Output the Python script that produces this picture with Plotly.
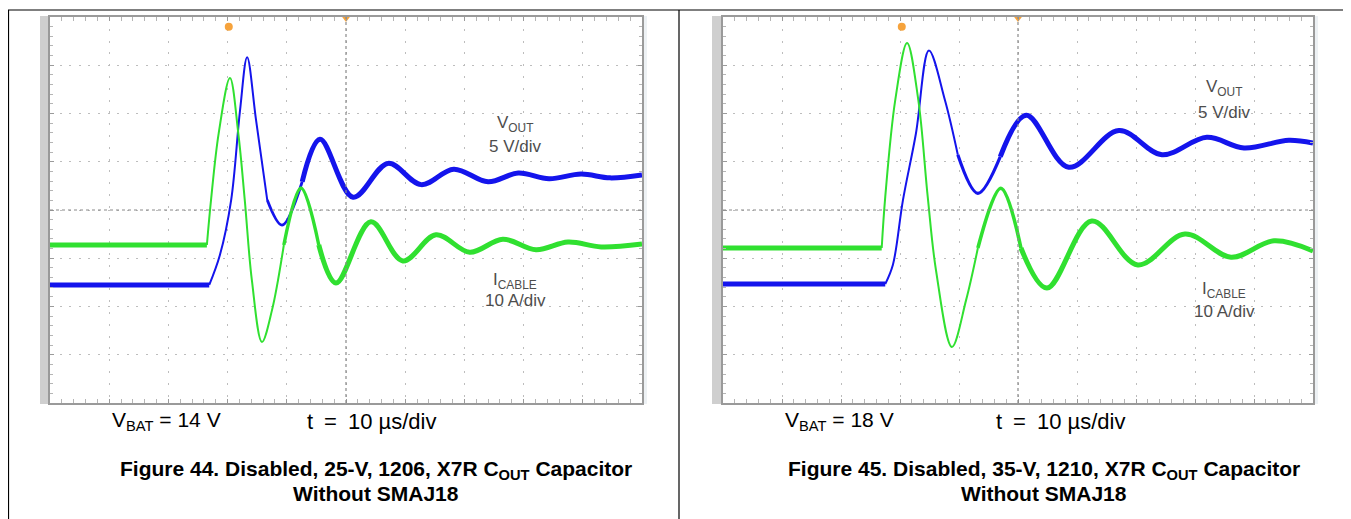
import plotly.graph_objects as go

W, H = 1351, 519

# ---------------- data (time in µs, VOUT in V, ICABLE in A) ----------------
# Figure 44
t44_vout = [0, 26.9, 28.7, 30.6, 32.1, 33.3, 34.8, 36.7, 39.2, 42.6, 45.6, 51.2, 57.1, 62.7,
            68.2, 74.0, 79.1, 84.3, 89.7, 94.6, 100]
v44_vout = [0, 0, 3.1, 8.8, 18.1, 23.6, 17.1, 8.8, 6.2, 10.7, 15.1, 9.1, 12.6, 10.4,
            12.0, 10.7, 11.6, 11.0, 11.5, 11.1, 11.4]
t44_icab = [0, 26.5, 27.2, 28.5, 30.4, 31.8, 32.9, 34.1, 35.8, 37.5, 39.5, 42.4, 45.4, 48.3,
            54.2, 59.6, 65.2, 70.9, 76.5, 82.1, 87.5, 93.1, 100]
i44_icab = [0, 0, 9.3, 23.2, 34.6, 23.2, 9.3, -7.3, -20.1, -13.5, 0, 11.8, 0, -7.9,
            4.8, -3.3, 2.1, -1.5, 1.2, -1.0, 0.6, -0.4, 0.2]

# Figure 45
t45_vout = [0, 27.5, 28.8, 30.5, 32.7, 34.9, 37.6, 39.8, 43.2, 47.0, 51.4, 58.6, 67.1, 74.4,
            82.0, 88.3, 95.9, 100]
v45_vout = [0, 0, 2.0, 8.7, 15.6, 24.2, 19.1, 13.4, 9.4, 13.2, 17.5, 12.1, 15.9, 13.4,
            15.2, 14.1, 14.9, 14.6]
t45_icab = [0, 26.9, 27.5, 29.2, 31.2, 33.1, 34.7, 36.1, 38.8, 41.2, 43.2, 47.1, 50.5, 54.9,
            62.5, 70.3, 78.3, 86.1, 93.4, 100]
i45_icab = [0, 0, 10.6, 30.7, 42.5, 30.7, 10.6, -4.6, -20.5, -10.8, 0, 12.4, 0, -8.3,
            5.6, -3.5, 2.9, -1.9, 1.5, -0.6]

trigger_t = {44: 30.2, 45: 30.3}

vbat_text = {44: "V<sub>BAT</sub> = 14 V", 45: "V<sub>BAT</sub> = 18 V"}
time_text = "t\u2002=\u200210 µs/div"
captions = {
    44: ["Figure 44. Disabled, 25-V, 1206, X7R C<sub>OUT</sub> Capacitor", "Without SMAJ18"],
    45: ["Figure 45. Disabled, 35-V, 1210, X7R C<sub>OUT</sub> Capacitor", "Without SMAJ18"],
}

# scope settings
VOLT_PER_DIV = 5
AMP_PER_DIV = 10
US_PER_DIV = 10
N_XDIV, N_YDIV = 10, 8
# channel ground reference, in divisions from screen centre
vout_gnd = {44: -1.554, 45: -1.534}
icab_gnd = {44: -0.725, 45: -0.788}

# ---------------- styling / layout ----------------
BLUE = "#1414ec"
GREEN = "#30e030"
ORANGE = "#f6a33c"
GRID = "#bdbdbd"
FRAME = "#9a9a9a"
TXT = "#4d4d4d"
FONT = "Liberation Sans, Arial, sans-serif"

# the page body has an 8 px margin: map page pixels to figure-paper fractions
OFF = 8


def px(x):
    return (x - OFF) / W


def py(y):
    return 1 - (y - OFF) / H


# trace thickness pieces (indices into the series, split on slopes):
# thin fast edge -> medium -> thick noisy ringing tail
panels = {
    44: dict(x0=50, x1=642, bar0=40, cap_cx=376, lbl_cx=515,
             vlab=(124, 146), ilab=(281, 300), vbat_x=110, t_x=305,
             vpieces=(7, 9, 2.8), ipieces=(10, 12, 3.4)),
    45: dict(x0=723, x1=1313, bar0=712, cap_cx=1044, lbl_cx=1224,
             vlab=(88, 112), ilab=(290, 311), vbat_x=783, t_x=994,
             vpieces=(7, 9, 3.2), ipieces=(10, 12, 3.6)),
}
data = {
    44: (t44_vout, v44_vout, t44_icab, i44_icab),
    45: (t45_vout, v45_vout, t45_icab, i45_icab),
}
Y0, Y1 = 17, 403

fig = go.Figure()
layout = dict(width=W, height=H, margin=dict(l=0, r=0, t=0, b=0),
              paper_bgcolor="white", plot_bgcolor="white", showlegend=False,
              font=dict(family=FONT, color="black"))
shapes, annotations = [], []

xmax = N_XDIV * US_PER_DIV


def nm(kind, i):
    return kind + ("axis" if i == 1 else f"axis{i}")


def ref(kind, i):
    return kind if i == 1 else f"{kind}{i}"


for k, (fid, p) in enumerate(panels.items()):
    n = 1 + k * 10  # axis index block
    xa, ya, yv, yi = n, n, n + 1, n + 2
    xc1, xc2 = n + 3, n + 4
    yc1, yc2 = n + 3, n + 4
    xdom = [px(p["x0"]), px(p["x1"])]
    ydom = [py(Y1), py(Y0)]
    # main graticule axes
    layout[nm("x", xa)] = dict(domain=xdom, range=[0, xmax], anchor=ref("y", ya),
        showgrid=True, gridcolor=GRID, griddash="2px,9.8px", gridwidth=1,
        tick0=0, dtick=US_PER_DIV, showticklabels=False, zeroline=False,
        showline=True, linecolor=FRAME, linewidth=2, mirror="allticks",
        ticks="inside", ticklen=4, tickcolor=FRAME,
        minor=dict(dtick=US_PER_DIV / 5, ticks="inside", ticklen=3, tickcolor="#b5b5b5"),
        fixedrange=True)
    layout[nm("y", ya)] = dict(domain=ydom, range=[-N_YDIV / 2, N_YDIV / 2], anchor=ref("x", xa),
        showgrid=True, gridcolor=GRID, griddash="2px,7.6px", gridwidth=1,
        tick0=0, dtick=1, showticklabels=False, zeroline=False,
        showline=True, linecolor=FRAME, linewidth=2, mirror="allticks",
        ticks="inside", ticklen=4, tickcolor=FRAME,
        minor=dict(dtick=0.2, ticks="inside", ticklen=3, tickcolor="#b5b5b5"),
        fixedrange=True)
    # channel axes
    g = vout_gnd[fid]
    layout[nm("y", yv)] = dict(domain=ydom, overlaying=ref("y", ya), anchor=ref("x", xa),
        range=[(-N_YDIV / 2 - g) * VOLT_PER_DIV, (N_YDIV / 2 - g) * VOLT_PER_DIV], visible=False)
    g = icab_gnd[fid]
    layout[nm("y", yi)] = dict(domain=ydom, overlaying=ref("y", ya), anchor=ref("x", xa),
        range=[(-N_YDIV / 2 - g) * AMP_PER_DIV, (N_YDIV / 2 - g) * AMP_PER_DIV], visible=False)
    # centre-line tick axes
    cy = (ydom[0] + ydom[1]) / 2
    cx = (xdom[0] + xdom[1]) / 2
    for idx, tk in ((xc1, "inside"), (xc2, "outside")):
        layout[nm("x", idx)] = dict(overlaying=ref("x", xa), anchor="free", position=cy,
            range=[0, xmax], tick0=0, dtick=US_PER_DIV / 5, ticks=tk, ticklen=3,
            tickcolor="#8c8c8c", showticklabels=False, showgrid=False, zeroline=False,
            showline=False, side="bottom")
    for idx, tk in ((yc1, "inside"), (yc2, "outside")):
        layout[nm("y", idx)] = dict(overlaying=ref("y", ya), anchor="free", position=cx,
            range=[-N_YDIV / 2, N_YDIV / 2], tick0=0, dtick=0.2, ticks=tk, ticklen=3,
            tickcolor="#8c8c8c", showticklabels=False, showgrid=False, zeroline=False,
            showline=False, side="left")
    # centre dotted lines
    shapes.append(dict(type="line", xref=ref("x", xa), yref=ref("y", ya), x0=0, x1=xmax, y0=0, y1=0,
                       line=dict(color="#8a8a8a", width=1.2, dash="dot")))
    shapes.append(dict(type="line", xref=ref("x", xa), yref=ref("y", ya), x0=xmax / 2, x1=xmax / 2,
                       y0=-N_YDIV / 2, y1=N_YDIV / 2, line=dict(color="#8a8a8a", width=1.2, dash="dot")))
    # left grey bar and right light strip
    shapes.append(dict(type="rect", xref="paper", yref="paper", x0=px(p["bar0"]), x1=px(p["x0"] - 1),
                       y0=py(Y1 + 1), y1=py(Y0 - 1), fillcolor="#cfcfcf", line=dict(width=0), layer="below"))
    shapes.append(dict(type="rect", xref="paper", yref="paper", x0=px(p["x1"] + 1), x1=px(p["x1"] + 5),
                       y0=py(Y1 + 1), y1=py(Y0 - 1), fillcolor="#edf1f4", line=dict(width=0), layer="below"))

    tv, vv, ti, iv = data[fid]
    xr = ref("x", xa)
    # channel traces, drawn as contiguous pieces:
    # quiet baseline (noisy, thick), fast edges (thin), medium, ringing tail (thick)
    for (tt, yy, yax, col, pieces) in ((ti, iv, yi, GREEN, p["ipieces"]),
                                       (tv, vv, yv, BLUE, p["vpieces"])):
        a, b, wmid = pieces
        yr = ref("y", yax)
        fig.add_trace(go.Scatter(x=tt[:2], y=yy[:2], mode="lines", xaxis=xr, yaxis=yr,
                                 line=dict(color=col, width=5), hoverinfo="skip"))
        for s, e, w in ((1, a, 2), (a, b, wmid), (b, len(tt) - 1, 5)):
            fig.add_trace(go.Scatter(x=tt[s:e + 1], y=yy[s:e + 1], mode="lines", xaxis=xr, yaxis=yr,
                                     line=dict(color=col, width=w, shape="spline", smoothing=1.0),
                                     hoverinfo="skip"))
    # ground markers on the left edge
    fig.add_trace(go.Scatter(x=[-0.25], y=[0], mode="markers", xaxis=xr, yaxis=ref("y", yv),
                             marker=dict(color=BLUE, size=7, symbol="square"), cliponaxis=False))
    fig.add_trace(go.Scatter(x=[-0.25], y=[0], mode="markers", xaxis=xr, yaxis=ref("y", yi),
                             marker=dict(color="white", size=7, symbol="circle",
                                         line=dict(color=GREEN, width=2)), cliponaxis=False))
    # trigger markers (orange)
    fig.add_trace(go.Scatter(x=[trigger_t[fid]], y=[3.8], mode="markers", xaxis=xr, yaxis=ref("y", ya),
                             marker=dict(color=ORANGE, size=8, symbol="circle"), cliponaxis=False))
    fig.add_trace(go.Scatter(x=[xmax / 2], y=[N_YDIV / 2 - 0.03], mode="markers", xaxis=xr,
                             yaxis=ref("y", ya),
                             marker=dict(color=ORANGE, size=7, symbol="triangle-down"), cliponaxis=False))

    # labels inside the screen
    lf = dict(family=FONT, size=17, color=TXT)
    annotations += [
        dict(text="V<sub>OUT</sub>", x=px(p["lbl_cx"]), y=py(p["vlab"][0]), xref="paper", yref="paper",
             xanchor="center", yanchor="middle", showarrow=False, font=lf),
        dict(text="5 V/div", x=px(p["lbl_cx"]), y=py(p["vlab"][1]), xref="paper", yref="paper",
             xanchor="center", yanchor="middle", showarrow=False, font=lf),
        dict(text="I<sub>CABLE</sub>", x=px(p["lbl_cx"]), y=py(p["ilab"][0]), xref="paper", yref="paper",
             xanchor="center", yanchor="middle", showarrow=False, font=lf),
        dict(text="10 A/div", x=px(p["lbl_cx"]), y=py(p["ilab"][1]), xref="paper", yref="paper",
             xanchor="center", yanchor="middle", showarrow=False, font=lf),
    ]
    # labels below the screen
    bf = dict(family=FONT, size=21, color="black")
    annotations += [
        dict(text=vbat_text[fid], x=px(p["vbat_x"]), y=py(421), xref="paper", yref="paper",
             xanchor="left", yanchor="middle", showarrow=False, font=bf),
        dict(text=time_text, x=px(p["t_x"]), y=py(421), xref="paper", yref="paper",
             xanchor="left", yanchor="middle", showarrow=False, font=dict(bf, size=22)),
    ]
    cf = dict(family=FONT, size=21, color="black")
    for j, line in enumerate(captions[fid]):
        annotations.append(dict(text=f"<b>{line}</b>", x=px(p["cap_cx"]), y=py(470 + 23 * j),
                                xref="paper", yref="paper", xanchor="center", yanchor="middle",
                                showarrow=False, font=cf))

# outer frame lines
shapes += [
    dict(type="line", xref="paper", yref="paper", x0=px(8), x1=1, y0=py(10), y1=py(10),
         line=dict(color="black", width=1.2)),
    dict(type="line", xref="paper", yref="paper", x0=px(8.5), x1=px(8.5), y0=py(10), y1=0,
         line=dict(color="black", width=1.2)),
    dict(type="line", xref="paper", yref="paper", x0=px(679), x1=px(679), y0=py(10), y1=0,
         line=dict(color="black", width=1.2)),
]

layout["shapes"] = shapes
layout["annotations"] = annotations
fig.update_layout(**layout)
fig.write_html("out.html")
